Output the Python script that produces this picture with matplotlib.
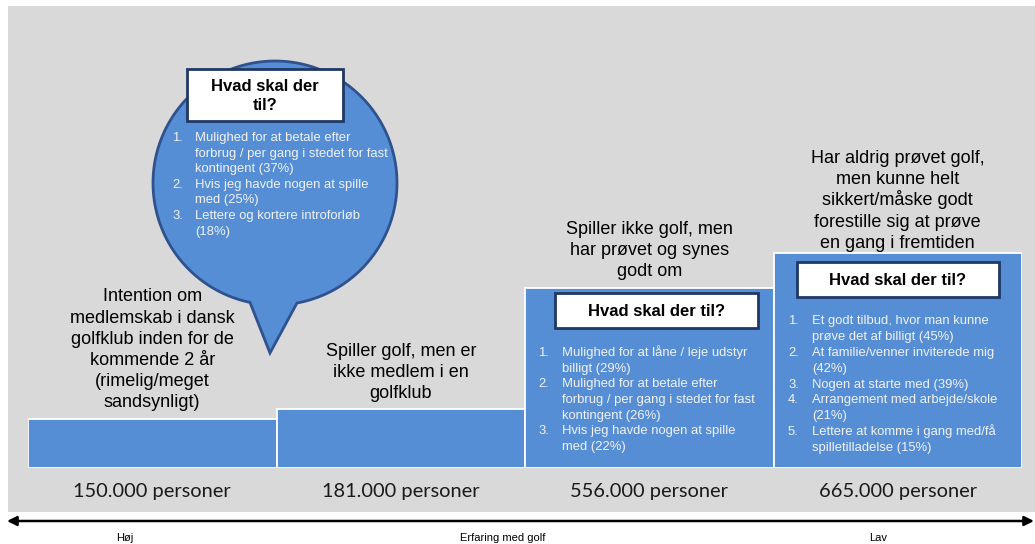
import numpy as np
import matplotlib.pyplot as plt
from matplotlib.patches import Rectangle, Polygon

W, H = 1035, 544

# segments, from high to low golf experience
segments = [
    "Intention om\nmedlemskab i dansk\ngolfklub inden for de\nkommende 2 år\n(rimelig/meget\nsandsynligt)",
    "Spiller golf, men er\nikke medlem i en\ngolfklub",
    "Spiller ikke golf, men\nhar prøvet og synes\ngodt om",
    "Har aldrig prøvet golf,\nmen kunne helt\nsikkert/måske godt\nforestille sig at prøve\nen gang i fremtiden",
]
persons = [150, 181, 556, 665]  # tusinde personer
person_labels = ["150.000 personer", "181.000 personer", "556.000 personer", "665.000 personer"]
axis_labels = ["Høj", "Erfaring med golf", "Lav"]

box_title = "Hvad skal der til?"
bubble_items = [
    ["Mulighed for at betale efter", "forbrug / per gang i stedet for fast", "kontingent (37%)"],
    ["Hvis jeg havde nogen at spille", "med (25%)"],
    ["Lettere og kortere introforløb", "(18%)"],
]
seg3_items = [
    ["Mulighed for at låne / leje udstyr", "billigt (29%)"],
    ["Mulighed for at betale efter", "forbrug / per gang i stedet for fast", "kontingent (26%)"],
    ["Hvis jeg havde nogen at spille", "med (22%)"],
]
seg4_items = [
    ["Et godt tilbud, hvor man kunne", "prøve det af billigt (45%)"],
    ["At familie/venner inviterede mig", "(42%)"],
    ["Nogen at starte med (39%)"],
    ["Arrangement med arbejde/skole", "(21%)"],
    ["Lettere at komme i gang med/få", "spilletilladelse (15%)"],
]

BLUE = "#558ED5"
NAVY = "#203864"
EDGE = "#2F528F"
GREY = "#D9D9D9"
ARIAL = "Liberation Sans"


def draw_list(ax, items, x_num, x_txt, y0, dy):
    # y0 is the visual middle of the first line, text is put on its baseline
    y = y0 + 4
    for n, lines in enumerate(items, start=1):
        ax.text(x_num, y, f"{n}.", color="#F2F2F2", fontsize=9.4, family=ARIAL, va="baseline")
        for line in lines:
            ax.text(x_txt, y, line, color="#F2F2F2", fontsize=9.4, family=ARIAL, va="baseline")
            y += dy


def title_box(ax, x0, y0, x1, y1, text):
    ax.add_patch(Rectangle((x0, y0), x1 - x0, y1 - y0, facecolor="white",
                           edgecolor=NAVY, lw=2))
    ax.text((x0 + x1) / 2, (y0 + y1) / 2 + 1, text, fontsize=12, fontweight="bold",
            family=ARIAL, ha="center", va="center", linespacing=1.4)


fig = plt.figure(figsize=(W / 100, H / 100), dpi=100)

# background layer in pixel coordinates
back = fig.add_axes([0, 0, 1, 1], zorder=0)
back.set_xlim(0, W)
back.set_ylim(H, 0)
back.axis("off")
back.add_patch(Rectangle((8, 6), W - 8, 506, facecolor=GREY, edgecolor="none"))
back.annotate("", xy=(7, 521), xytext=(1034, 521),
              arrowprops=dict(arrowstyle="<|-|>", color="black", lw=1.8,
                              mutation_scale=14, shrinkA=0, shrinkB=0))
for x, lab in zip([125, 503, 878], axis_labels):
    back.text(x, 538, lab, fontsize=8, family=ARIAL, ha="center", va="center")

# the bars
ax = fig.add_axes([28 / W, 76 / H, 994 / W, 452.9 / H], zorder=1)
ax.patch.set_visible(False)
x = np.arange(len(persons))
ax.bar(x, persons, width=1.0, color=BLUE, edgecolor="white", linewidth=1.3)
ax.set_xlim(-0.5, 3.5)
ax.set_ylim(0, 1400)
ax.axis("off")

# segment labels, one line at a time so the spacing stays even
gaps = [12, 11, 12, 5]
line_h = 21.2
for i, (seg, v, g) in enumerate(zip(segments, persons, gaps)):
    lines = seg.split("\n")
    for k, line in enumerate(reversed(lines)):
        ax.annotate(line, (i, v), xytext=(0, g + k * line_h), textcoords="offset pixels",
                    ha="center", va="baseline", fontsize=13, family=ARIAL)
for i, lab in enumerate(person_labels):
    ax.annotate(lab, (i, 0), xytext=(0, -23), textcoords="offset pixels",
                ha="center", va="center", fontsize=14.4, family="Lato", color="#1a1a1a")

# front layer: speech bubble, boxes and lists
front = fig.add_axes([0, 0, 1, 1], zorder=2)
front.set_xlim(0, W)
front.set_ylim(H, 0)
front.axis("off")
front.patch.set_visible(False)

cx, cy, r = 275, 183, 122
a1 = np.arccos((297 - cx) / r)
a2 = np.arccos((250 - cx) / r)
t = np.linspace(a2, a1 + 2 * np.pi, 200)
pts = np.column_stack([cx + r * np.cos(t), cy + r * np.sin(t)])
pts = np.vstack([pts, [[270, 353]]])
front.add_patch(Polygon(pts, closed=True, facecolor=BLUE, edgecolor=EDGE, lw=2))

title_box(front, 187, 69, 343, 121, "Hvad skal der\ntil?")
draw_list(front, bubble_items, 172, 195, 137, 15.6)

title_box(front, 555, 293, 758, 328, box_title)
draw_list(front, seg3_items, 538, 562, 352, 15.7)

title_box(front, 797, 262, 999, 297, box_title)
draw_list(front, seg4_items, 788, 812, 320, 15.9)

fig.savefig("out.png", dpi=100)
